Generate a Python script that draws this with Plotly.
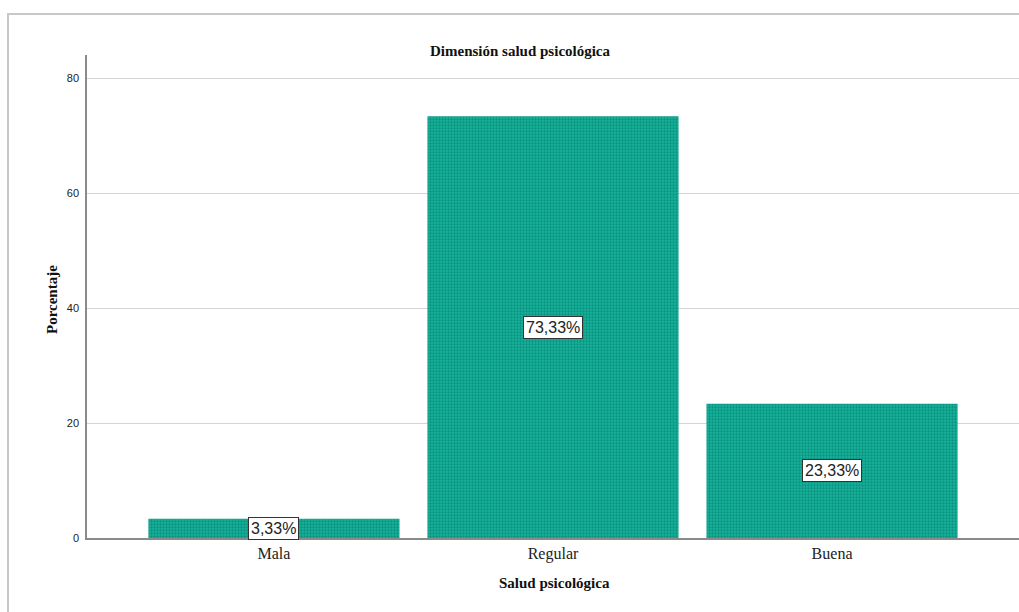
import plotly.graph_objects as go

categories = ["Mala", "Regular", "Buena"]
percentages = [3.33, 73.33, 23.33]
labels = ["3,33%", "73,33%", "23,33%"]
y_ticks = [0, 20, 40, 60, 80]

fig = go.Figure()
fig.add_trace(go.Bar(
    x=categories, y=percentages, width=0.9,
    marker=dict(color="#12a48e", line=dict(width=0),
                pattern=dict(shape=".", fgcolor="#006f60", bgcolor="#17b29a", size=3, solidity=0.45)),
    hoverinfo="skip",
))

for c, v, t in zip(categories, percentages, labels):
    fig.add_annotation(x=c, y=v / 2, text=t, showarrow=False,
                       font=dict(family="Liberation Sans, Arial", size=16, color="#222"),
                       bgcolor="white", bordercolor="#333", borderwidth=1, borderpad=2)

W, H = 1019, 612
l, r, t, b = 87, 0, 55, 74
pw, ph = W - l - r, H - t - b

def px(x):
    return (x - l) / pw

def py(y):
    return (H - b - y) / ph

fig.add_shape(type="rect", xref="paper", yref="paper",
              x0=px(8), x1=px(1040), y0=py(14), y1=py(640),
              line=dict(color="#c8c8c8", width=2), fillcolor="rgba(0,0,0,0)", layer="below")

fig.add_annotation(xref="paper", yref="paper", x=px(520), y=py(41), text="<b>Dimensión salud psicológica</b>",
                   showarrow=False, font=dict(family="Liberation Serif, Times New Roman", size=15, color="#111"))
fig.add_annotation(xref="paper", yref="paper", x=px(554), y=py(593), text="<b>Salud psicológica</b>",
                   showarrow=False, font=dict(family="Liberation Serif, Times New Roman", size=15, color="#111"))
fig.add_annotation(xref="paper", yref="paper", x=px(42), y=py(300), text="<b>Porcentaje</b>", textangle=-90,
                   showarrow=False, font=dict(family="Liberation Serif, Times New Roman", size=15, color="#111"))

fig.update_layout(
    width=W, height=H, margin=dict(l=l, r=r, t=t, b=b),
    paper_bgcolor="white", plot_bgcolor="white", showlegend=False,
    xaxis=dict(range=[-0.67, 2.67], showline=True, linecolor="#8a8a8a", linewidth=1.5,
               showgrid=False, ticks="", tickfont=dict(family="Liberation Serif, Times New Roman", size=16, color="#222"),
               zeroline=False),
    yaxis=dict(range=[0, 84], tickvals=y_ticks, showline=True, linecolor="#8a8a8a", linewidth=1.5,
               showgrid=True, gridcolor="#d4d4d4", gridwidth=1, ticks="", zeroline=False,
               tickfont=dict(family="Liberation Sans, Arial", size=11, color="#222"), ticklabelstandoff=4),
)

fig.write_html("out.html")
